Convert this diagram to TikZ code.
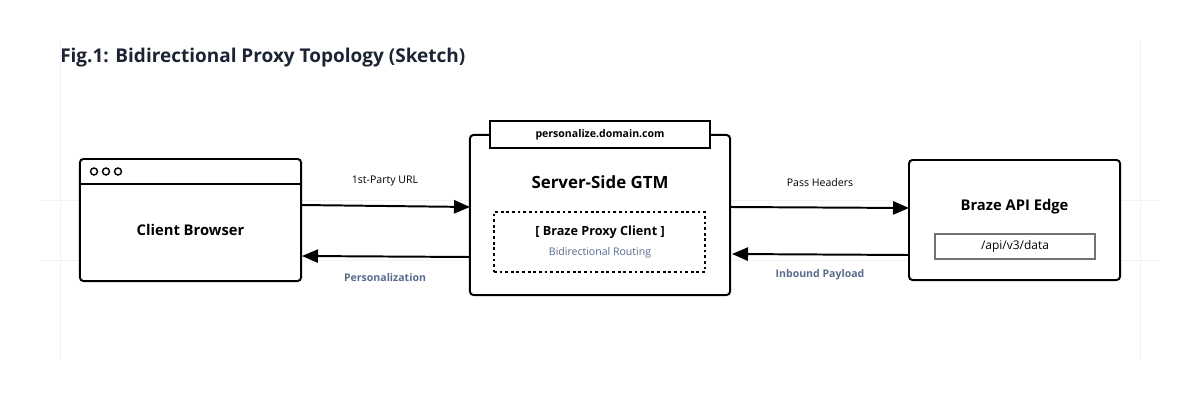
\documentclass[tikz,border=0pt]{standalone}
\usepackage{fontspec}
\setmainfont{Open Sans}
\usetikzlibrary{arrows.meta}
\definecolor{slate}{HTML}{5A6A8A}
\definecolor{faint}{HTML}{F2F3F7}
\definecolor{navy}{HTML}{1C2333}
\begin{document}
\begin{tikzpicture}[x=0.025cm,y=-0.025cm,
  box/.style={draw,line width=1.4pt,rounded corners=2.5pt,fill=white,inner sep=0pt},
  lbl/.style={font=\fontsize{7.5}{9}\selectfont},
  link/.style={line width=1.4pt,-{Triangle[length=0.4cm,width=0.33cm]}}]
\useasboundingbox (0,0) rectangle (1200,400);
% faint guides
\draw [faint] (60,40) -- (60,360);
\draw [faint] (1140,40) -- (1140,360);
\draw [faint] (40,200) -- (1160,200);
\draw [faint] (40,260) -- (1160,260);
\path (60,58) node (title) [anchor=west,inner sep=0pt,font=\bfseries\fontsize{13.5}{16}\selectfont,text=navy] {Fig.1: Bidirectional Proxy Topology (Sketch)};

% client browser
\path (190.5,220) node (client) [box,minimum width=5.5275cm,minimum height=3.05cm] {};
\draw [line width=1.4pt] (80,184) -- (301,184);
\foreach \i in {94,106,118}
  \draw [line width=1pt] (\i,171.5) circle (3.5);
\path (190.5,230) node (clientt) [font=\bfseries\fontsize{10.5}{12}\selectfont] {Client Browser};

% server-side gtm
\path (600,215) node (gtm) [box,minimum width=6.5cm,minimum height=4cm] {};
\path (600,134.5) node (tab) [draw,line width=1.4pt,fill=white,minimum width=5.5cm,minimum height=0.675cm,font=\bfseries\fontsize{7.5}{9}\selectfont] {personalize.domain.com};
\path (600,182) node (gtmt) [font=\bfseries\fontsize{12}{14}\selectfont] {Server-Side GTM};
\path (599.5,242) node (proxy) [draw,line width=1pt,dash pattern=on 2pt off 2pt,minimum width=5.275cm,minimum height=1.5cm] {};
\path (600,232) node (proxyt) [font=\bfseries\fontsize{9}{11}\selectfont] {[ Braze Proxy Client ]};
\path (600,253) node (proxys) [text=slate,font=\fontsize{7.5}{9}\selectfont] {Bidirectional Routing};

% braze edge
\path (1014.5,220) node (braze) [box,minimum width=5.275cm,minimum height=3cm] {};
\path (1014.5,207) node (brazet) [font=\bfseries\fontsize{10.5}{12}\selectfont] {Braze API Edge};
\path (1015,246.5) node (api) [draw=black!55,line width=1.2pt,minimum width=4cm,minimum height=0.625cm,font=\fontsize{8.5}{10}\selectfont] {/api/v3/data};

% connectors
\coordinate (c1) at (301,205); \coordinate (g1) at (470,207);
\coordinate (g2) at (470,257); \coordinate (c2) at (302,256);
\coordinate (g3) at (731,207); \coordinate (b1) at (909,208);
\coordinate (b2) at (909,255); \coordinate (g4) at (732,254);
\draw [link] (c1) -- (g1);
\draw [link] (g2) -- (c2);
\draw [link] (g3) -- (b1);
\draw [link] (b2) -- (g4);
\path (385,181) node (l1) [lbl] {1st-Party URL};
\path (385,278) node (l2) [lbl,text=slate,font=\bfseries\fontsize{7.5}{9}\selectfont] {Personalization};
\path (820,183) node (l3) [lbl] {Pass Headers};
\path (820,275) node (l4) [lbl,text=slate,font=\bfseries\fontsize{7.5}{9}\selectfont] {Inbound Payload};
\end{tikzpicture}
\end{document}
